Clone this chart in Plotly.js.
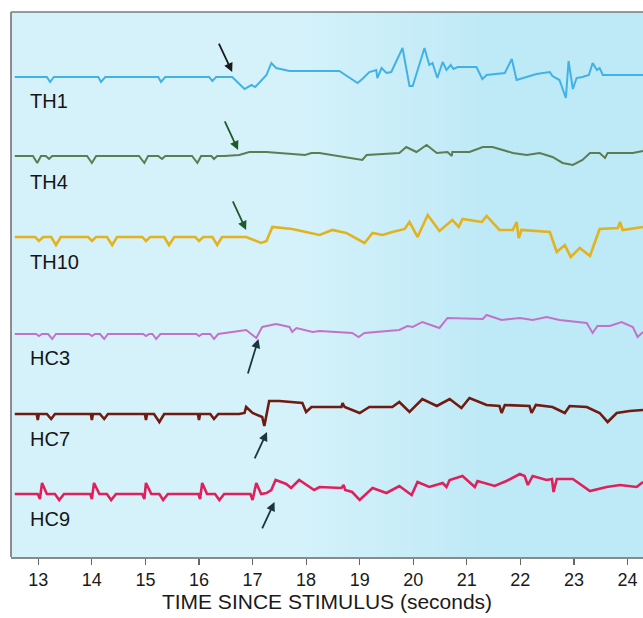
<!DOCTYPE html>
<html><head><meta charset="utf-8">
<script src="https://cdn.plot.ly/plotly-3.0.1.min.js"></script>
<style>html,body{margin:0;padding:0;background:#fff}#chart{width:643px;height:618px}</style>
</head><body><div id="chart"></div>
<script>
// ---- data (time in seconds since stimulus, amplitude in arbitrary units) ----
const channels = ['TH1', 'TH4', 'TH10', 'HC3', 'HC7', 'HC9'];
const tickVals = [13, 14, 15, 16, 17, 18, 19, 20, 21, 22, 23, 24];

const th1_t = [12.56, 13.16, 13.22, 13.29, 14.12, 14.17, 14.25, 15.24, 15.29, 15.37, 16.19, 16.25, 16.32, 16.62, 16.85, 16.98, 17.05, 17.26, 17.35, 17.44, 17.69, 18.25, 18.62, 18.96, 19.05, 19.18, 19.31, 19.33, 19.41, 19.50, 19.59, 19.80, 19.93, 19.99, 20.21, 20.30, 20.36, 20.45, 20.55, 20.62, 20.70, 20.75, 20.83, 21.18, 21.29, 21.37, 21.71, 21.84, 21.93, 22.30, 22.55, 22.60, 22.73, 22.85, 22.90, 22.98, 23.05, 23.16, 23.28, 23.35, 23.43, 23.48, 23.54, 24.29];
const th1_v = [0, 0, -0.5, 0, 0, -0.5, 0, 0, -0.5, 0, 0, -0.4, 0, 0, -1.2, -0.8, -1.0, 0.2, 1.4, 0.9, 0.6, 0.6, 0.6, -0.6, -0.2, 0.5, 0.7, -0.1, 0.9, 0.4, 0.5, 2.9, -0.9, -0.9, 2.9, 1.2, 1.4, -0.1, 1.5, 0.7, 1.2, 0.8, 1.0, 1.0, -0.2, 0.2, 0.4, 1.8, -0.3, 0.3, 0.5, 0.1, -0.3, -2.1, 1.6, -1.2, -0.1, 0, 0.2, 1.4, 0.7, 0.9, 0.2, 0.2];

const th4_t = [12.56, 12.90, 12.98, 13.05, 13.14, 13.20, 13.26, 13.91, 14.00, 14.08, 14.88, 14.98, 15.05, 15.24, 15.31, 15.37, 15.87, 15.97, 16.04, 16.23, 16.28, 16.34, 16.47, 16.75, 16.94, 17.26, 17.98, 18.10, 18.25, 19.05, 19.13, 19.74, 19.87, 20.06, 20.25, 20.44, 20.64, 20.72, 20.73, 21.05, 21.30, 21.48, 21.86, 22.12, 22.36, 22.60, 22.79, 22.98, 23.16, 23.30, 23.48, 23.58, 23.63, 24.10, 24.29];
const th4_v = [0, 0, -0.7, 0, 0, -0.3, 0, 0, -0.7, 0, 0, -0.7, 0, 0, -0.3, 0, 0, -0.7, 0, 0, -0.3, 0, 0, 0.1, 0.4, 0.4, 0.1, 0.3, 0.3, -0.4, 0.1, 0.3, 0.9, 0.4, 1.1, 0.3, 0.4, 0, 0.4, 0.4, 0.9, 0.9, 0.3, 0.1, 0.3, -0.1, -0.7, -0.9, -0.4, 0.3, 0.3, -0.2, 0.3, 0.3, 0.5];

const th10_t = [12.56, 12.94, 13.01, 13.09, 13.24, 13.33, 13.42, 13.93, 14.00, 14.08, 14.28, 14.38, 14.47, 14.94, 15.01, 15.09, 15.35, 15.44, 15.54, 15.93, 16.00, 16.08, 16.25, 16.34, 16.43, 16.88, 17.16, 17.26, 17.37, 17.74, 18.25, 18.49, 18.75, 19.09, 19.24, 19.43, 19.61, 19.84, 19.93, 20.08, 20.27, 20.49, 20.73, 20.85, 20.92, 21.28, 21.37, 21.61, 21.86, 21.93, 21.97, 22.02, 22.55, 22.68, 22.83, 22.94, 23.11, 23.30, 23.48, 23.82, 23.86, 23.91, 24.29];
const th10_v = [0, 0, -0.4, 0, 0, -0.8, 0, 0, -0.4, 0, 0, -0.8, 0, 0, -0.4, 0, 0, -0.8, 0, 0, -0.4, 0, 0, -0.8, 0, 0, -0.6, -0.4, 1.0, 0.8, 0.2, 0.7, 0.4, -0.6, 0.4, 0.2, 0.5, 0.8, 1.5, 0, 2.2, 0.6, 1.7, 1.0, 1.8, 1.5, 2.1, 0.7, 0.7, 1.5, -0.1, 0.7, 0.5, -1.5, -0.8, -2.0, -1.1, -1.9, 0.8, 0.9, 1.5, 0.7, 1.0];

const hc3_t = [12.56, 12.96, 13.01, 13.07, 13.18, 13.26, 13.33, 13.95, 14.00, 14.06, 14.15, 14.23, 14.30, 14.96, 15.01, 15.07, 15.13, 15.20, 15.28, 15.95, 16.00, 16.06, 16.21, 16.28, 16.36, 16.62, 16.88, 17.07, 17.18, 17.44, 17.69, 17.74, 17.82, 18.12, 18.25, 18.86, 18.98, 19.09, 19.74, 19.89, 19.99, 20.17, 20.49, 20.64, 21.30, 21.37, 21.65, 21.99, 22.23, 22.49, 22.73, 23.24, 23.35, 23.44, 23.67, 23.89, 24.10, 24.19, 24.29];
const hc3_v = [0, 0, -0.2, 0, 0, -0.5, 0, 0, -0.2, 0, 0, -0.5, 0, 0, -0.2, 0, 0, -0.5, 0, 0, -0.2, 0, 0, -0.5, 0, 0.2, 0.4, -0.4, 0.7, 1.0, 0.7, 0.2, 0.6, 0.2, 0.3, 0.1, -0.3, 0.1, 0.4, 0.8, 0.7, 1.2, 0.6, 1.6, 1.5, 1.9, 1.4, 1.6, 1.4, 1.7, 1.4, 1.1, 0.1, 0.8, 0.8, 1.2, 0.7, -0.3, 0.2];

const hc7_t = [12.56, 12.97, 12.99, 13.01, 13.16, 13.24, 13.31, 13.98, 14.00, 14.02, 14.15, 14.23, 14.30, 14.99, 15.01, 15.03, 15.16, 15.26, 15.35, 15.98, 16.00, 16.02, 16.21, 16.28, 16.36, 16.75, 16.85, 16.88, 17.00, 17.18, 17.22, 17.31, 17.50, 17.93, 18.00, 18.10, 18.25, 18.66, 18.68, 18.72, 19.00, 19.18, 19.61, 19.74, 19.93, 20.17, 20.44, 20.68, 20.90, 21.05, 21.37, 21.61, 21.65, 21.71, 22.17, 22.21, 22.29, 22.60, 22.83, 22.92, 23.24, 23.48, 23.63, 23.80, 24.04, 24.29];
const hc7_v = [0, 0, -0.6, 0, 0, -0.5, 0, 0, -0.6, 0, 0, -0.5, 0, 0, -0.6, 0, 0, -0.8, 0, 0, -0.6, 0, 0, -0.5, 0, 0, 0.1, 0.7, 0.1, -0.3, -1.2, 1.3, 1.3, 1.1, 0.2, 0.7, 0.7, 0.7, 1.1, 0.7, 0.1, 0.7, 0.7, 1.2, 0.2, 1.5, 0.8, 1.5, 0.6, 1.6, 0.9, 0.8, 0.1, 0.9, 0.8, 0.1, 0.9, 0.7, 0.1, 0.8, 0.7, 0.1, -0.8, 0.1, 0.3, 0.4];

const hc9_t = [12.56, 12.99, 13.03, 13.07, 13.16, 13.31, 13.39, 13.48, 13.97, 14.00, 14.04, 14.14, 14.28, 14.36, 14.45, 14.94, 14.98, 15.01, 15.11, 15.26, 15.33, 15.42, 15.99, 16.02, 16.06, 16.15, 16.30, 16.38, 16.47, 16.96, 17.00, 17.07, 17.16, 17.26, 17.35, 17.43, 17.63, 17.72, 17.87, 18.00, 18.15, 18.25, 18.66, 18.70, 18.73, 18.86, 19.00, 19.24, 19.50, 19.74, 19.97, 20.08, 20.30, 20.55, 20.62, 20.68, 20.92, 21.15, 21.20, 21.52, 21.74, 21.99, 22.08, 22.14, 22.23, 22.49, 22.59, 22.62, 22.68, 22.98, 23.30, 23.61, 23.86, 24.17, 24.29];
const hc9_v = [0, 0, -0.5, 1.1, 0, 0, -0.6, 0, 0, -0.5, 1.1, 0, 0, -0.6, 0, 0, -0.5, 1.1, 0, 0, -0.6, 0, 0, -0.5, 1.1, 0, 0, -0.6, 0, 0, -0.6, 1.1, 0, 0.1, 0.4, 1.4, 1.0, 0.6, 1.4, 0.9, 0.4, 0.7, 0.6, 0.9, 0.4, 0.2, -0.6, 0.6, 0.1, 0.8, -0.1, 1.2, 0.7, 1.1, 0.7, 1.4, 1.8, 0.7, 1.3, 0.8, 1.3, 2.0, 1.8, 0.9, 1.8, 1.4, 1.5, 0.2, 1.5, 1.5, 0.3, 0.7, 0.9, 0.7, 1.2];

// onset markers (time, amplitude at arrow tip)
const onset_t = [16.62, 16.73, 16.88, 17.11, 17.27, 17.41];
const onset_v = [0.5, 0.6, 0.7, -0.5, -1.8, -0.8];

// ---- styling ----
const seriesT = [th1_t, th4_t, th10_t, hc3_t, hc7_t, hc9_t];
const seriesV = [th1_v, th4_v, th10_v, hc3_v, hc7_v, hc9_v];
const colors = ['#41b2e6', '#5b7d52', '#e3b21c', '#c372c9', '#6f1b12', '#e0205c'];
const widths = [2, 2, 2.6, 2, 2.6, 2.6];
const laneCenter = [0.8807, 0.7358, 0.5872, 0.4092, 0.2624, 0.1156];
const laneHalf = 0.0734;
const labelY = [0.8367, 0.6881, 0.5413, 0.3651, 0.2165, 0.0697];
const arrowColors = ['#1a1a1a', '#1f5a2a', '#1f5a2a', '#1c3540', '#1c3540', '#1c3540'];
const arrowAx = [-14, -14, -14, -11, -13, -13];
const arrowAy = [-30, -30, -30, 36, 28, 28];

const font = '"Liberation Sans", Arial, Helvetica, sans-serif';
const axName = i => 'y' + (i === 0 ? '' : (i + 1));
const axKey = i => 'yaxis' + (i === 0 ? '' : (i + 1));

const traces = channels.map((name, i) => ({
  type: 'scatter', mode: 'lines', name: name,
  x: seriesT[i], y: seriesV[i], xaxis: 'x', yaxis: axName(i),
  line: { color: colors[i], width: widths[i] },
  hoverinfo: 'skip'
}));

const layout = {
  width: 643, height: 618,
  margin: { l: 11, r: 0, t: 12, b: 61 },
  paper_bgcolor: '#ffffff',
  plot_bgcolor: 'rgba(0,0,0,0)',
  showlegend: false,
  font: { family: font, color: '#1a1a1a' },
  xaxis: {
    range: [12.49, 24.29], anchor: 'free', position: 0,
    tickvals: tickVals, ticktext: tickVals.map(String),
    ticks: 'outside', ticklen: 6, tickwidth: 1.2, tickcolor: '#666',
    showline: true, linecolor: '#8a8a8a', linewidth: 1.5,
    showgrid: false, zeroline: false,
    tickfont: { family: font, size: 18, color: '#1a1a1a' },
    title: { text: 'TIME SINCE STIMULUS (seconds)', font: { family: font, size: 21, color: '#1a1a1a' }, standoff: 4 }
  },
  shapes: [],
  annotations: []
};

channels.forEach((name, i) => {
  layout[axKey(i)] = {
    domain: [laneCenter[i] - laneHalf, laneCenter[i] + laneHalf],
    range: [-4, 4], visible: false, fixedrange: true, anchor: 'x'
  };
  layout.annotations.push({
    xref: 'paper', yref: 'paper', x: 0.027, y: labelY[i], xanchor: 'left', yanchor: 'middle',
    text: name, showarrow: false, font: { family: font, size: 20, color: '#151515' }
  });
  layout.annotations.push({
    xref: 'x', yref: axName(i), x: onset_t[i], y: onset_v[i], text: '',
    showarrow: true, arrowhead: 2, arrowsize: 1, arrowwidth: 1.8, arrowcolor: arrowColors[i],
    ax: arrowAx[i], ay: arrowAy[i]
  });
});

// background tint: lighter on the left, bluer on the right
const c0 = [213, 242, 250], c1 = [190, 233, 246];
const nStrip = 24, gx0 = 0.45, gx1 = 0.75;
layout.shapes.push({ type: 'rect', xref: 'paper', yref: 'paper', x0: 0, x1: gx0 + 0.001, y0: 0, y1: 1,
  fillcolor: 'rgb(' + c0.join(',') + ')', line: { width: 0 }, layer: 'below' });
for (let k = 0; k <= nStrip; k++) {
  const f = k / nStrip;
  const col = 'rgb(' + c0.map((c, j) => Math.round(c + (c1[j] - c) * f)).join(',') + ')';
  const xa = gx0 + (gx1 - gx0) * k / nStrip;
  const xb = k === nStrip ? 1 : gx0 + (gx1 - gx0) * (k + 1) / nStrip + 0.001;
  layout.shapes.push({ type: 'rect', xref: 'paper', yref: 'paper', x0: xa, x1: xb, y0: 0, y1: 1,
    fillcolor: col, line: { width: 0 }, layer: 'below' });
}
// frame: left and top borders
layout.shapes.push({ type: 'line', xref: 'paper', yref: 'paper', x0: 0, x1: 0, y0: 0, y1: 1, line: { color: '#6a6a6a', width: 1.5 } });
layout.shapes.push({ type: 'line', xref: 'paper', yref: 'paper', x0: 0, x1: 1, y0: 1, y1: 1, line: { color: '#7a7a7a', width: 1.5 } });

Plotly.newPlot('chart', traces, layout, { staticPlot: true, displayModeBar: false });
</script>
</body></html>
